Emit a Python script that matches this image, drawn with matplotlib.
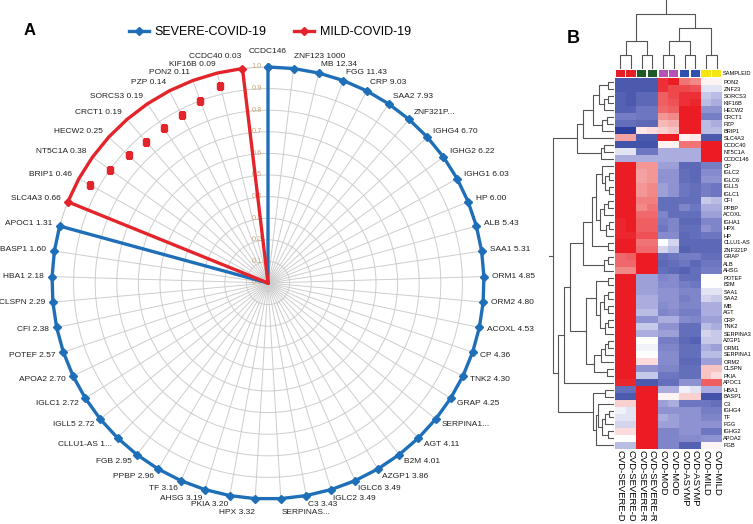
import numpy as np
import matplotlib
matplotlib.use("Agg")
import matplotlib.pyplot as plt
from matplotlib.colors import LinearSegmentedColormap
from matplotlib.lines import Line2D
import matplotlib.transforms as mtrans

plt.rcParams['font.family'] = ['Liberation Sans', 'DejaVu Sans']

# ---------------- Panel A data ----------------
genes = ["CCDC146", "ZNF123", "MB", "FGG", "CRP", "SAA2", "ZNF321P...", "IGHG4", "IGHG2", "IGHG1",
         "HP", "ALB", "SAA1", "ORM1", "ORM2", "ACOXL", "CP", "TNK2", "GRAP", "SERPINA1...",
         "AGT", "B2M", "AZGP1", "IGLC6", "IGLC2", "C3", "SERPINAS...", "HPX", "PKIA", "AHSG",
         "TF", "PPBP", "FGB", "CLLU1-AS 1...", "IGLL5", "IGLC1", "APOA2", "POTEF", "CFI", "CLSPN",
         "HBA1", "BASP1", "APOC1", "SLC4A3", "BRIP1", "NT5C1A", "HECW2", "CRCT1", "SORCS3", "PZP",
         "PON2", "KIF16B", "CCDC40"]
fold = ["", "1000", "12.34", "11.43", "9.03", "7.93", "", "6.70", "6.22", "6.03",
        "6.00", "5.43", "5.31", "4.85", "4.80", "4.53", "4.36", "4.30", "4.25", "",
        "4.11", "4.01", "3.86", "3.49", "3.49", "3.43", "", "3.32", "3.20", "3.19",
        "3.16", "2.96", "2.95", "", "2.72", "2.72", "2.70", "2.57", "2.38", "2.29",
        "2.18", "1.60", "1.31", "0.66", "0.46", "0.38", "0.25", "0.19", "0.19", "0.14",
        "0.11", "0.09", "0.03"]
severe = [1, 1, 1, 1, 1, 1, 1, 1, 1, 1, 1, 1, 1, 1, 1, 1, 1, 1, 1, 1,
          1, 1, 1, 1, 1, 1, 1, 1, 1, 1, 1, 1, 1, 1, 1, 1, 1, 1, 1, 1,
          1, 1, 1, 0, 0, 0, 0, 0, 0, 0, 0, 0, 0]
mild = [0, 0, 0, 0, 0, 0, 0, 0, 0, 0, 0, 0, 0, 0, 0, 0, 0, 0, 0, 0,
        0, 0, 0, 0, 0, 0, 0, 0, 0, 0, 0, 0, 0, 0, 0, 0, 0, 0, 0, 0,
        0, 0, 0, 1, 1, 1, 1, 1, 1, 1, 1, 1, 1]
mild_marker_genes = ["BRIP1", "NT5C1A", "HECW2", "CRCT1", "SORCS3", "PZP", "PON2", "KIF16B"]
mild_marker_r = [0.94, 0.90, 0.875, 0.863, 0.863, 0.875, 0.90, 0.94]
r_ticks = [0.0, 0.1, 0.2, 0.3, 0.4, 0.5, 0.6, 0.7, 0.8, 0.9, 1.0]

# ---------------- Panel B data ----------------
samples = ["CVD-SEVERE-D", "CVD-SEVERE-D", "CVD-SEVERE-R", "CVD-SEVERE-R", "CVD-MOD", "CVD-MOD",
           "CVD-ASYMP", "CVD-ASYMP", "CVD-MILD", "CVD-MILD"]
sample_colors = ["#e61f26", "#e61f26", "#1d5a26", "#1d5a26", "#b552b5", "#b552b5",
                 "#3050b0", "#3050b0", "#f5e612", "#f5e612"]
heat_genes = ["PON2", "ZNF23", "SORCS3", "KIF16B", "HECW2", "CRCT1", "PZP", "BRIP1", "SLC4A3",
              "CCDC40", "NT5C1A", "CCDC146", "CP", "IGLC2", "IGLC6", "IGLL5", "IGLC1", "CFI",
              "PPBP", "ACOXL", "IGHA1", "HPX", "HP", "CLLU1-AS", "ZNF321P", "GRAP", "ALB", "AHSG",
              "POTEF", "B2M", "SAA1", "SAA2", "MB", "AGT", "CRP", "TNK2", "SERPINA3", "AZGP1",
              "ORM1", "SERPINA1", "ORM2", "CLSPN", "PKIA", "APOC1", "HBA1", "BASP1", "C3", "IGHG4",
              "TF", "FGG", "IGHG2", "APOA2", "FGB"]
heat_values = [
    [-1.6, -1.6, -1.6, -1.6, 1.8, 2.0, 1.2, 1.0, 0.1, 0.1],
    [-1.6, -1.6, -1.6, -1.6, 1.8, 1.6, 1.6, 1.5, -0.2, -0.2],
    [-1.5, -1.6, -1.4, -1.4, 1.4, 1.6, 1.8, 1.8, -0.4, -0.5],
    [-1.5, -1.6, -1.4, -1.4, 1.4, 1.5, 1.8, 1.9, -0.5, -0.6],
    [-1.5, -1.5, -1.2, -1.2, 1.3, 1.4, 2.0, 2.0, -0.8, -0.8],
    [-1.1, -1.1, -1.2, -1.2, 0.9, 1.0, 2.0, 2.0, -1.1, -1.1],
    [-1.3, -1.3, -1.4, -1.4, 0.6, 0.7, 2.0, 2.0, -0.5, -0.6],
    [-2.0, -2.0, 0.2, 0.3, 0.4, 0.5, 2.0, 2.0, -0.5, -0.5],
    [0.8, 0.8, -1.6, -1.6, 2.0, 2.0, 0.1, 0.2, -1.6, -1.6],
    [-1.7, -1.7, -1.7, -1.7, 0.1, 0.1, 1.2, 1.2, 2.0, 2.0],
    [-0.2, -0.2, -1.2, -1.2, -0.6, -0.6, -0.6, -0.6, 2.0, 2.0],
    [-0.6, -0.6, -0.6, -0.6, -0.6, -0.6, -0.6, -0.6, 2.0, 2.0],
    [2.0, 2.0, 0.9, 0.9, -0.7, -0.7, -1.4, -1.4, -1.1, -1.1],
    [2.0, 2.0, 0.8, 0.9, -0.8, -0.8, -1.3, -1.4, -0.9, -0.9],
    [2.0, 2.0, 0.8, 0.9, -0.8, -0.8, -1.3, -1.4, -0.8, -0.8],
    [2.0, 2.0, 0.9, 1.0, -0.7, -0.8, -1.2, -1.3, -1.1, -1.2],
    [2.0, 2.0, 0.9, 1.0, -0.7, -0.8, -1.2, -1.3, -1.1, -1.2],
    [2.0, 2.0, 1.1, 1.1, -1.3, -1.3, -1.3, -1.3, -0.4, -0.5],
    [2.0, 2.0, 1.0, 1.2, -1.3, -1.3, -1.0, -1.2, -0.6, -0.6],
    [2.0, 2.0, 1.3, 1.3, -1.0, -1.3, -1.3, -1.3, -0.7, -0.7],
    [1.9, 2.0, 1.4, 1.4, -1.1, -1.0, -1.4, -1.4, -1.0, -1.0],
    [1.9, 2.0, 1.4, 1.4, -1.2, -1.0, -1.3, -1.3, -0.8, -1.0],
    [1.9, 1.9, 1.5, 1.5, -0.9, -0.9, -1.4, -1.3, -1.2, -1.2],
    [2.0, 2.0, 1.2, 1.2, 0.0, -0.3, -1.4, -1.4, -1.4, -1.4],
    [2.0, 2.0, 1.3, 1.3, -0.3, -0.5, -1.5, -1.4, -1.4, -1.4],
    [1.3, 1.4, 2.0, 2.0, -1.3, -1.2, -1.1, -1.1, -1.3, -1.3],
    [1.3, 1.3, 2.0, 2.0, -1.4, -1.3, -1.2, -1.4, -1.2, -1.2],
    [1.0, 1.0, 2.0, 2.0, -1.3, -1.4, -1.5, -1.3, -1.1, -1.1],
    [2.0, 2.0, -0.7, -0.7, -1.0, -0.9, -1.3, -1.3, 0.0, 0.0],
    [2.0, 2.0, -0.7, -0.7, -0.9, -0.9, -1.1, -1.2, 0.0, 0.0],
    [2.0, 2.0, -0.7, -0.7, -0.8, -0.8, -1.0, -1.0, -0.2, -0.2],
    [2.0, 2.0, -0.6, -0.6, -0.8, -0.8, -1.1, -1.0, -0.3, -0.4],
    [2.0, 2.0, -0.6, -0.6, -0.9, -0.8, -1.0, -1.0, -0.6, -0.6],
    [2.0, 2.0, -0.5, -0.5, -1.0, -0.9, -1.1, -1.1, -0.6, -0.6],
    [2.0, 2.0, -0.8, -0.8, -0.6, -0.6, -0.9, -1.0, -0.7, -0.7],
    [2.0, 2.0, -0.4, -0.4, -0.8, -0.8, -1.3, -1.3, -0.5, -0.6],
    [2.0, 2.0, -0.6, -0.6, -0.7, -0.7, -1.3, -1.3, -0.3, -0.4],
    [2.0, 2.0, 0.0, 0.0, -1.1, -1.1, -1.4, -1.5, -0.4, -0.4],
    [2.0, 2.0, -0.1, -0.1, -1.0, -1.0, -1.3, -1.3, -0.6, -0.7],
    [2.0, 2.0, 0.0, 0.0, -0.9, -0.9, -1.3, -1.3, -0.5, -0.5],
    [2.0, 2.0, 0.3, 0.3, -0.9, -0.9, -1.4, -1.4, -0.7, -0.7],
    [2.0, 2.0, -0.8, -0.8, -1.0, -1.0, -1.3, -1.3, 0.5, 0.5],
    [2.0, 2.0, -0.4, -0.4, -1.2, -1.2, -1.3, -1.3, 0.5, 0.3],
    [1.9, 1.9, -1.6, -1.6, -1.3, -1.3, -0.8, -0.8, 1.4, 1.4],
    [-1.3, -1.3, 2.0, 2.0, -0.6, -0.6, -0.1, -0.2, -0.6, -0.6],
    [-1.6, -1.6, 2.0, 2.0, 0.1, 0.1, 0.4, 0.4, -1.7, -1.7],
    [0.4, 0.4, 2.0, 2.0, -0.7, -0.6, -1.2, -1.2, -1.2, -1.3],
    [-0.1, -0.2, 2.0, 2.0, -0.8, -0.8, -0.8, -0.8, -1.1, -1.1],
    [-0.2, -0.2, 2.0, 2.0, -0.6, -0.7, -0.8, -0.8, -1.0, -1.0],
    [-0.3, -0.3, 2.0, 2.0, -0.7, -0.7, -0.8, -0.8, -0.8, -0.8],
    [0.3, 0.3, 2.0, 2.0, -1.0, -1.0, -0.8, -0.8, -1.2, -1.2],
    [0.0, 0.0, 2.0, 2.0, -1.0, -1.0, -0.9, -0.9, -0.8, -0.8],
    [-0.5, -0.5, 2.0, 2.0, -1.0, -1.0, -1.5, -1.5, 0.1, 0.1],
]

# dendrograms: nodes are (left, right, merge height); ints are leaf indices
col_tree = (((0, 1, 1), (2, 3, 1), 2), (((4, 5, 1), (6, 7, 1), 2), (8, 9, 1), 3), 4)

t_up = ((((0, 1, 1.0), ((2, 3, 1.0), 4, 1.6), 2.4), ((5, 6, 1.2), 7, 2.0), 3.5), 8, 5.0)
t_low = ((9, 10, 1.6), 11, 2.2)
t_node = (t_up, t_low, 6.0)
m_ig = (12, ((13, 14, 0.8), (15, 16, 0.8), 1.4), 2.0)
m_cf = (((17, 18, 1.0), 19, 1.6), ((20, 21, 0.8), 22, 1.3), 2.3)
m_a = (((m_ig, m_cf, 2.9), (23, 24, 1.0), 3.6), ((25, 26, 1.0), 27, 1.6), 5.0)
m_sa = ((((30, 31, 1.0), (32, 33, 1.0), 1.7), ((34, 35, 1.0), 36, 1.5), 2.3), (28, 29, 1.0), 3.0)
m_or = ((((37, 38, 1.0), 39, 1.5), 40, 2.1), (41, 42, 1.2), 3.2)
m_b = (m_sa, m_or, 4.6)
m_node = ((m_a, m_b, 7.2), 43, 8.2)
b_node = ((44, 45, 1.5), ((46, (((47, 48, 0.8), 49, 1.4), (50, 51, 1.0), 2.0), 2.6), 52, 3.0), 3.5)
row_tree = (t_node, (m_node, b_node, 9.2), 10.0)

BLUE = "#1f6fb8"
RED = "#e3242b"
GRID = "#cdcdcd"

fig = plt.figure(figsize=(7.53, 5.24), dpi=100)
W, H = 753.0, 524.0

# ---------------- Panel A ----------------
ax = fig.add_axes([52 / W, 25 / H, 432 / W, 432 / H], projection='polar')
ax.set_theta_zero_location('N')
ax.set_theta_direction(-1)
N = len(genes)
theta = np.arange(N) * 2 * np.pi / N
ax.set_xticks(theta)
ax.set_xticklabels([])
ax.set_yticks(r_ticks[1:])
ax.set_yticklabels([])
ax.set_ylim(0, 1)
ax.grid(True, color=GRID, lw=0.7)
ax.spines['polar'].set_color(GRID)
ax.spines['polar'].set_linewidth(0.7)
ax.tick_params(length=0)

th_c = np.append(theta, theta[0] + 2 * np.pi)
sev_c = np.append(severe, severe[0])
mild_c = np.append(mild, mild[0])
ax.plot(th_c, sev_c, color=BLUE, lw=2.4, marker='D', ms=3.6,
        markevery=list(sev_c > 0), clip_on=False, zorder=5)
ax.plot(th_c, mild_c, color=RED, lw=2.4, clip_on=False, zorder=6)
ends = [genes.index("SLC4A3"), genes.index("CCDC40")]
ax.plot(theta[ends], [mild[i] for i in ends], 'D', color=RED, ms=3.6, clip_on=False, zorder=7)
mth = [theta[genes.index(g)] for g in mild_marker_genes]
ax.plot(mth, mild_marker_r, 's', color=RED, ms=4.2, zorder=6)

lab_tr = mtrans.offset_copy(ax.transData, fig=fig, x=-6, y=0, units='dots')
for r in r_ticks:
    ax.text(0, r, f"{r:.1f}", transform=lab_tr, ha='right', va='center',
            fontsize=5.3, color='#c9a677', zorder=4)

for i, g in enumerate(genes):
    a = theta[i]
    s, c = np.sin(a), np.cos(a)
    lab = g if fold[i] == "" else f"{g} {fold[i]}"
    ha = 'left' if s > 0.03 else ('right' if s < -0.03 else 'center')
    oy = 9 * c + np.sign(c) * 6 * np.clip((abs(c) - 0.985) / 0.015, 0, 1)
    ax.annotate(lab, xy=(a, 1.0), xytext=(8 * s, oy), textcoords='offset pixels',
                ha=ha, va='center', fontsize=6.0, color='#222222', annotation_clip=False)

handles = [Line2D([], [], color=BLUE, lw=2.4, marker='D', ms=4),
           Line2D([], [], color=RED, lw=2.4, marker='D', ms=4)]
fig.legend(handles, ["SEVERE-COVID-19", "MILD-COVID-19"], loc='center',
           bbox_to_anchor=(270 / W, 1 - 32 / H), ncol=2, frameon=False, fontsize=9,
           handlelength=1.6, handletextpad=0.45, columnspacing=2.2)

fig.text(29.5 / W, 1 - 30.5 / H, "A", fontsize=12, fontweight='bold', ha='center', va='center')
fig.text(573 / W, 1 - 38.5 / H, "B", fontsize=13, fontweight='bold', ha='center', va='center')

# ---------------- Panel B ----------------
hx0, hx1 = 615, 722
hy0, hy1 = 78, 449
cmap = LinearSegmentedColormap.from_list(
    "bwr_c", [(0, "#2c3f9e"), (0.3, "#8f93d2"), (0.5, "#ffffff"), (0.75, "#f28b8b"), (1, "#ec1c24")])
axh = fig.add_axes([hx0 / W, (H - hy1) / H, (hx1 - hx0) / W, (hy1 - hy0) / H])
axh.imshow(np.array(heat_values), cmap=cmap, vmin=-2, vmax=2, aspect='auto', interpolation='nearest')
axh.set_xticks(range(len(samples)))
axh.set_xticklabels(samples, rotation=270, fontsize=6.8, va='top', ha='center')
axh.yaxis.tick_right()
axh.set_yticks(range(len(heat_genes)))
axh.set_yticklabels(heat_genes, fontsize=4.1)
axh.tick_params(axis='y', length=0, pad=1.0)
axh.tick_params(axis='x', length=0, pad=0.8)
for sp in axh.spines.values():
    sp.set_visible(False)

# column annotation bar
axc = fig.add_axes([hx0 / W, (H - 77) / H, (hx1 - hx0) / W, 7 / H])
axc.bar(range(len(samples)), [1] * len(samples), width=0.86, color=sample_colors)
axc.set_xlim(-0.5, len(samples) - 0.5)
axc.set_ylim(0, 1)
axc.axis('off')
axc.text(1.01, 0.5, "SAMPLEID", transform=axc.transAxes, ha='left', va='center', fontsize=4.1)

DCOL = "#555555"


def draw_dendro(axd, node, orient):
    if isinstance(node, int):
        return float(node), 0.0
    l, r, h = node
    p1, h1 = draw_dendro(axd, l, orient)
    p2, h2 = draw_dendro(axd, r, orient)
    if orient == 'top':
        axd.plot([p1, p1, p2, p2], [h1, h, h, h2], color=DCOL, lw=0.8)
    else:
        axd.plot([h1, h, h, h2], [p1, p1, p2, p2], color=DCOL, lw=0.8)
    return (p1 + p2) / 2, h


axdc = fig.add_axes([hx0 / W, (H - 69) / H, (hx1 - hx0) / W, 69 / H])
pos, hroot = draw_dendro(axdc, col_tree, 'top')
axdc.plot([pos, pos], [hroot, 5], color=DCOL, lw=0.8)
axdc.set_xlim(-0.5, len(samples) - 0.5)
axdc.set_ylim(0, 5)
axdc.axis('off')

axdr = fig.add_axes([549 / W, (H - hy1) / H, 65 / W, (hy1 - hy0) / H])
pos, hroot = draw_dendro(axdr, row_tree, 'left')
axdr.plot([hroot, hroot * 1.06], [pos, pos], color=DCOL, lw=0.8)
axdr.set_xlim(hroot * 1.06, 0)
axdr.set_ylim(len(heat_genes) - 0.5, -0.5)
axdr.axis('off')

fig.savefig("out.png", dpi=100)
